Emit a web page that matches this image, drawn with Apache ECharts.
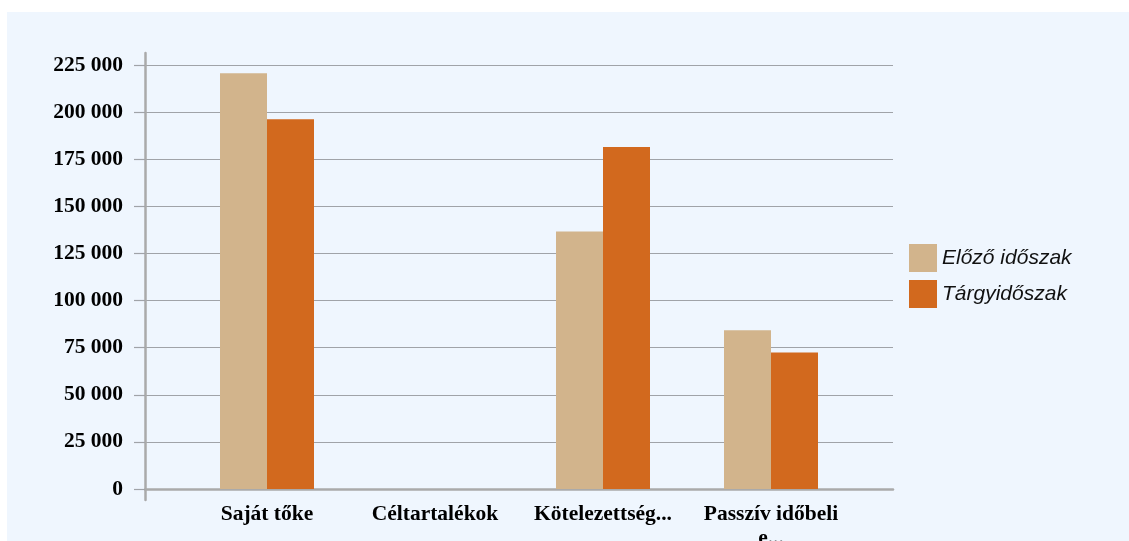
<!DOCTYPE html>
<html>
<head>
<meta charset="utf-8">
<script src="https://cdn.jsdelivr.net/npm/echarts@6/dist/echarts.min.js"></script>
<style>
html,body{margin:0;padding:0;background:#ffffff;}
#bg{position:absolute;left:7px;top:12px;width:1122px;height:529px;background:#EFF6FE;}
#chart{position:absolute;left:0;top:0;width:1129px;height:541px;}
</style>
</head>
<body>
<div id="bg"></div>
<div id="chart"></div>
<script>
const categories = ['Saját tőke', 'Céltartalékok', 'Kötelezettség...', 'Passzív időbeli\ne...'];
const seriesNames = ['Előző időszak', 'Tárgyidőszak'];
const previousValues = [220600, 0, 136700, 84200];
const currentValues = [196200, 0, 181500, 72500];
const yTicks = [0, 25000, 50000, 75000, 100000, 125000, 150000, 175000, 200000, 225000];

const chart = echarts.init(document.getElementById('chart'), null, {renderer: 'canvas'});
const fmt = v => {
  const s = String(Math.round(v));
  return s.replace(/\B(?=(\d{3})+(?!\d))/g, ' ');
};
const yMin = yTicks[0], yMax = yTicks[yTicks.length - 1], yStep = yTicks[1] - yTicks[0];

chart.setOption({
  backgroundColor: 'transparent',
  animation: false,
  legend: {
    orient: 'vertical',
    left: 909,
    top: 244,
    padding: 0,
    itemWidth: 28,
    itemHeight: 28,
    itemGap: 8,
    icon: 'rect',
    data: seriesNames,
    textStyle: {fontFamily: 'Liberation Sans', fontStyle: 'italic', fontSize: 21, color: '#111'}
  },
  grid: [
    {left: 145, right: 236, top: 65, bottom: 52, outerBoundsMode: 'none', containLabel: false},
    {left: 183, width: 672, top: 65, bottom: 52, outerBoundsMode: 'none', containLabel: false},
    {left: 145, width: 10, top: 53, bottom: 41, outerBoundsMode: 'none', containLabel: false}
  ],
  xAxis: [
    {gridIndex: 0, type: 'value', min: 0, max: 1, axisLabel: {show: false}, axisTick: {show: false}, splitLine: {show: false},
     axisLine: {show: true, lineStyle: {color: '#aaaaaa', width: 2.5}}},
    {gridIndex: 1, type: 'category', data: categories, axisLine: {show: false}, axisTick: {show: false},
     axisLabel: {margin: 13, fontFamily: 'Liberation Serif', fontWeight: 'bold', fontSize: 21.5, color: '#000', lineHeight: 24.5, interval: 0}},
    {gridIndex: 2, type: 'value', show: false}
  ],
  yAxis: [
    {gridIndex: 0, type: 'value', min: yMin, max: yMax, interval: yStep,
     axisLine: {show: false},
     axisTick: {show: true, length: 11, inside: false, lineStyle: {color: '#a0a3a8', width: 1.2}},
     splitLine: {show: true, lineStyle: {color: '#a0a3a8', width: 1.2}},
     axisLabel: {margin: 22, formatter: fmt, fontFamily: 'Liberation Serif', fontWeight: 'bold', fontSize: 21.5, color: '#000'}},
    {gridIndex: 1, type: 'value', min: yMin, max: yMax, interval: yStep, show: false},
    {gridIndex: 2, type: 'value', min: 0, max: 1, axisLabel: {show: false}, axisTick: {show: false}, splitLine: {show: false},
     axisLine: {show: true, lineStyle: {color: '#aaaaaa', width: 2.5}}}
  ],
  series: [
    {name: seriesNames[0], type: 'bar', xAxisIndex: 1, yAxisIndex: 1, data: previousValues, barWidth: 47, barGap: '0%',
     itemStyle: {color: '#D2B48C'}},
    {name: seriesNames[1], type: 'bar', xAxisIndex: 1, yAxisIndex: 1, data: currentValues, barWidth: 47, barGap: '0%',
     itemStyle: {color: '#D2691E'}}
  ]
});
</script>
</body>
</html>
